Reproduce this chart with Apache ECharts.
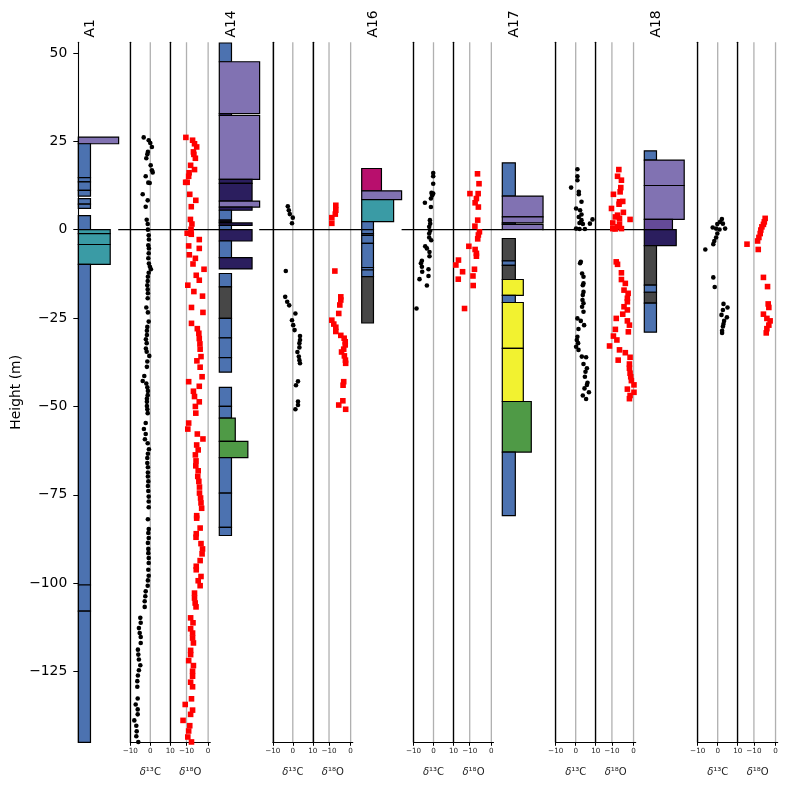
<!DOCTYPE html>
<html>
<head>
<meta charset="utf-8">
<script src="https://cdn.jsdelivr.net/npm/echarts@6/dist/echarts.min.js"></script>
<style>html,body{margin:0;padding:0;background:#fff}#c{width:787px;height:790px}</style>
</head>
<body>
<div id="c"></div>
<script>
// ---------------- DATA ----------------
const SECTIONS = ['A1', 'A14', 'A16', 'A17', 'A18'];
const HEIGHT_TICKS = [-125, -100, -75, -50, -25, 0, 25, 50];
const D13C_TICKS = [-10, 0, 10];
const D18O_TICKS = [-10, 0];
const DATUM = [0, 0, 0, 0];

// lithology: [base (m), top (m), texture width, facies]
const A1_lith = [
  [24.3, 26.2, 9.6, 'P'], [14.7, 24.3, 2.9, 'B'], [13.5, 14.7, 2.9, 'B'], [11.1, 13.5, 2.9, 'B'],
  [9.5, 11.1, 2.9, 'B'], [7.2, 8.8, 2.9, 'B'], [6.0, 7.2, 2.9, 'B'], [0.05, 4.0, 2.9, 'B'],
  [-1.1, 0, 7.6, 'T'], [-4.2, -1.1, 7.6, 'T'], [-9.8, -4.2, 7.6, 'T'],
  [-100.5, -9.8, 2.9, 'B'], [-107.9, -100.5, 2.9, 'B'], [-145, -107.9, 2.9, 'B']
];
const A14_lith = [
  [47.5, 52.8, 2.9, 'B'], [32.8, 47.5, 9.6, 'P'], [32.3, 32.8, 2.9, 'N'], [14.2, 32.3, 9.6, 'P'],
  [13.1, 14.2, 7.8, 'N'], [8.1, 13.1, 7.8, 'N'], [6.4, 8.1, 9.6, 'P'], [5.5, 6.4, 7.8, 'N'],
  [2.7, 5.5, 2.9, 'B'], [2.2, 2.7, 2.9, 'N'], [1.9, 2.2, 2.9, 'B'], [1.2, 1.9, 7.8, 'N'],
  [0, 1.2, 2.9, 'B'], [-3.2, 0, 7.8, 'N'], [-7.9, -3.2, 2.9, 'B'], [-11.1, -7.9, 7.8, 'N'],
  [-16.2, -12.4, 2.9, 'B'], [-25.1, -16.2, 2.9, 'K'], [-30.6, -25.1, 2.9, 'B'], [-36.2, -30.6, 2.9, 'B'],
  [-40.3, -36.2, 2.9, 'B'], [-50.0, -44.6, 2.9, 'B'], [-53.3, -50.0, 2.9, 'B'], [-59.9, -53.3, 3.8, 'G'],
  [-64.5, -59.9, 6.8, 'G'], [-74.5, -64.5, 2.9, 'B'], [-84.2, -74.5, 2.9, 'B'], [-86.5, -84.2, 2.9, 'B']
];
const A16_lith = [
  [11.0, 17.3, 4.7, 'M'], [8.5, 11.0, 9.5, 'P'], [2.3, 8.5, 7.6, 'T'], [0, 2.3, 2.8, 'B'],
  [-1.1, 0, 2.8, 'B'], [-1.6, -1.1, 2.8, 'B'], [-3.9, -1.6, 2.8, 'B'], [-10.7, -3.9, 2.8, 'B'],
  [-11.4, -10.7, 2.8, 'B'], [-13.3, -11.4, 2.8, 'B'], [-26.4, -13.3, 2.8, 'K']
];
const A17_lith = [
  [9.5, 18.9, 3.1, 'B'], [3.6, 9.5, 9.7, 'P'], [1.9, 3.6, 9.7, 'P'], [1.5, 1.9, 3.1, 'B'],
  [0, 1.5, 9.7, 'P'], [-8.8, -2.5, 3.1, 'K'], [-10.1, -8.8, 3.1, 'B'], [-14.1, -10.1, 3.1, 'K'],
  [-18.6, -14.1, 5.0, 'Y'], [-20.6, -18.6, 3.1, 'B'], [-33.6, -20.6, 5.0, 'Y'], [-48.6, -33.6, 5.0, 'Y'],
  [-62.9, -48.6, 6.9, 'G'], [-80.9, -62.9, 3.1, 'B']
];
const A18_lith = [
  [19.7, 22.3, 2.9, 'B'], [12.5, 19.7, 9.5, 'P'], [2.9, 12.5, 9.5, 'P'], [0, 2.9, 6.7, 'V'],
  [-4.5, 0, 7.6, 'N'], [-15.7, -4.5, 2.9, 'K'], [-17.7, -15.7, 2.9, 'B'], [-20.8, -17.7, 2.9, 'K'],
  [-29.0, -20.8, 2.9, 'B']
];

// isotope data: [value (permil), height (m)]
const A1_d13C = [
  [-3.3,26.1],[-0.8,25.3],[0,24.5],[0.8,23.4],[-1.2,22.0],[-1.5,21.3],[-2,20.2],[0.2,18.2],[0.8,16.8],[1.2,16.2],
  [-2.3,15.1],[-1,13.3],[-0.3,13.2],[-3.8,10.0],[-1.3,8.3],[-2.3,6.5],[-1.8,2.8],[-1.3,1.6],[-1.2,0],[-0.8,-1.6],
  [-0.7,-2.8],[-1,-4.4],[-0.7,-5.3],[-0.8,-6.7],[-1,-8.1],[-0.7,-9.6],[-0.2,-10.5],[0.3,-11.2],[-0.8,-12.2],[-1.2,-13.3],
  [-1.3,-14.5],[-1.5,-15.7],[-1.3,-16.9],[-1.2,-18.0],[-1.3,-19.4],[-2,-22.0],[-1.2,-23.4],[-0.8,-26.0],[-1.5,-27.5],[-1.7,-28.6],
  [-1.7,-29.8],[-2.2,-31.0],[-1.8,-32.1],[-2.2,-33.6],[-1.8,-34.5],[-0.5,-35.7],[-1.5,-37.3],[-1.7,-38.8],[-3,-41.4],[-3.8,-42.8],
  [-2,-43.5],[-1.5,-44.6],[-1.2,-45.6],[-1.3,-46.8],[-1.7,-47.8],[-1.7,-48.7],[-1.7,-49.9],[-1.5,-50.8],[-1.3,-51.9],[-2.3,-54.7],
  [-3.2,-56.4],[-2.3,-57.8],[-2.7,-59.3],[-1.3,-60.4],[-0.7,-62.1],[-1.2,-63.4],[-1.5,-64.6],[-1.5,-66.0],[-1.2,-67.2],[-1.2,-68.7],
  [-1.2,-69.8],[-1,-71.2],[-1.2,-72.5],[-1,-73.9],[-0.8,-75.5],[-0.8,-76.9],[-0.8,-78.5],[-1.2,-81.9],[-0.8,-84.7],[-1,-85.8],
  [-0.8,-87.2],[-1.2,-88.6],[-1,-90.3],[-1,-91.5],[-0.8,-92.9],[-0.8,-94.3],[-1,-96.2],[-0.8,-97.9],[-1.2,-99.2],[-1.3,-100.7],
  [-2.3,-102.3],[-2.5,-103.7],[-2.8,-105.1],[-2.8,-106.7],[-5,-109.8],[-4.8,-111.2],[-5.7,-112.7],[-5.3,-114.1],[-4.8,-115.2],[-4.8,-116.9],
  [-6.2,-118.8],[-6,-120.2],[-5.7,-121.6],[-5,-123.2],[-5.7,-124.6],[-6.2,-126.1],[-6.5,-127.7],[-6.5,-129.3],[-6.3,-132.6],[-7.3,-134.3],
  [-6.3,-135.7],[-6.3,-137.1],[-8,-138.8],[-7,-140.3],[-6.8,-141.9],[-7,-143.3],[-6,-144.9]
];
const A1_d18O = [
  [-10.3,26.1],[-7.2,25.3],[-6.3,24.3],[-5.3,23.4],[-6.8,22.0],[-6.6,21.3],[-5.9,20.2],[-8.1,18.2],[-6.3,17.0],[-8.8,16.1],
  [-9.0,15.1],[-10.4,13.4],[-9.7,13.4],[-8.5,10.0],[-5.7,8.3],[-7.8,6.5],[-8.2,2.9],[-7.5,1.6],[-7.9,0.1],[-9.7,-1.0],
  [-7.8,-1.3],[-4.1,-2.8],[-9,-4.6],[-4.1,-5.3],[-8.7,-7.1],[-5.9,-8.1],[-7.0,-9.7],[-1.9,-11.2],[-5.5,-12.9],[-4.1,-14.3],
  [-9.4,-15.7],[-6.6,-17.5],[-2.6,-18.8],[-7.7,-22.0],[-2.4,-23.4],[-7.7,-26.5],[-5.0,-28.0],[-4.3,-29.3],[-4.1,-30.8],[-3.8,-32.3],
  [-3.7,-33.8],[-3.3,-35.9],[-5.2,-37.1],[-3.7,-38.9],[-2.8,-41.6],[-9.0,-43.0],[-4.1,-44.3],[-6.8,-45.7],[-6.3,-47.2],[-4.1,-48.7],
  [-5.9,-50.0],[-5.7,-51.9],[-9.0,-54.7],[-9.4,-56.4],[-5.0,-57.8],[-2.4,-59.2],[-5.3,-60.9],[-4.6,-62.3],[-5.9,-63.7],[-5.6,-65.4],
  [-5.7,-66.8],[-4.6,-68.2],[-4.8,-69.8],[-4.3,-71.2],[-4.0,-72.8],[-4.0,-74.5],[-3.5,-75.9],[-3.3,-77.3],[-3.0,-78.8],[-5.3,-80.9],
  [-5.3,-81.6],[-3.7,-84.4],[-5.5,-86.0],[-5.6,-87.0],[-3.3,-88.8],[-2.6,-90.3],[-2.8,-91.7],[-3.7,-93.6],[-5.5,-95.2],[-5.5,-96.2],
  [-3.3,-98.1],[-4.6,-99.3],[-3.7,-100.7],[-6.3,-102.8],[-6.3,-104.2],[-6.0,-105.6],[-5.6,-106.7],[-8.1,-109.8],[-7.0,-111.2],[-8.1,-112.9],
  [-7.2,-114.1],[-7.2,-115.5],[-6.8,-116.9],[-8.1,-119.0],[-8.1,-120.2],[-9.0,-121.9],[-6.8,-123.3],[-7.2,-124.9],[-7.2,-126.3],[-8.1,-128.0],
  [-7.2,-129.3],[-7.7,-132.7],[-10.6,-134.3],[-7.2,-135.9],[-8.1,-137.1],[-11.6,-138.8],[-8.5,-140.3],[-9.0,-141.8],[-9.4,-143.5],[-7.7,-144.9]
];
const A14_d13C = [
  [-2.5,6.6],[-2.0,5.5],[-1.5,4.4],[0,3.4],[-0.4,1.8],[-3.5,-11.7],[-3.8,-19.0],[-2.8,-20.4],[-1.8,-21.4],[1.3,-23.7],
  [-0.4,-25.6],[0.2,-27.0],[0.9,-28.4],[3.6,-30.1],[3.6,-31.2],[3.3,-32.1],[3.3,-33.3],[2.3,-34.6],[3.0,-35.9],[3.3,-36.9],
  [3.6,-37.8],[2.6,-42.9],[1.6,-44.0],[2.6,-48.6],[2.6,-49.6],[1.3,-50.8]
];
const A14_d18O = [
  [-6.85,6.9],[-6.85,5.5],[-7.1,4.4],[-8.7,3.4],[-8.7,1.8],[-7.3,-11.7],[-4.55,-19.0],[-4.55,-19.9],[-5.0,-21.3],[-5.5,-23.7],
  [-8.7,-25.6],[-7.8,-26.7],[-6.85,-27.6],[-6.85,-28.8],[-4.55,-29.9],[-3.0,-30.7],[-2.5,-31.7],[-2.5,-32.6],[-3.2,-33.8],[-4.2,-34.6],
  [-2.9,-35.7],[-2.4,-36.9],[-2.3,-37.8],[-3.2,-43.0],[-3.5,-44.0],[-3.6,-48.4],[-5.5,-49.6],[-2.3,-50.8]
];
const A16_d13C = [
  [-0.15,16.0],[-0.15,15.1],[-0.15,13.0],[-1.0,10.4],[-0.15,10.2],[-0.65,9.7],[-1.3,8.8],[-4.3,7.6],[-1.3,6.4],[-1.8,2.7],
  [-1.65,1.7],[-2.15,0.8],[-1.65,-0.3],[-2.15,-1.1],[-2.15,-2.2],[-1.15,-3.0],[-4.15,-4.7],[-3.3,-5.3],[-2.0,-6.3],[-2.0,-7.5],
  [-5.8,-8.8],[-6.3,-9.5],[-5.8,-10.5],[-2.5,-11.2],[-5.65,-11.9],[-2.5,-13.1],[-7.0,-14.0],[-3.3,-15.8],[-8.5,-22.3]
];
const A16_d18O = [
  [-6.4,15.8],[-5.7,13.0],[-9.9,10.2],[-6.1,10.2],[-6.9,8.8],[-7.5,7.6],[-6.0,6.4],[-6.3,2.7],[-7.6,1.0],[-5.5,-0.6],
  [-6.0,-1.5],[-6.3,-2.6],[-10.4,-4.7],[-7.5,-5.6],[-6.9,-6.7],[-6.9,-7.5],[-15.2,-8.6],[-16.4,-10.0],[-13.3,-11.9],[-15.3,-14.0],
  [-8.5,-13.1],[-7.8,-11.2],[-8.4,-15.8],[-12.4,-22.3]
];
const A17_d13C = [
  [0.85,17.1],[0.85,15.1],[0.85,14.0],[-2.3,11.9],[1.55,10.7],[1.55,10.0],[2.9,7.9],[0.2,6.0],[2.2,5.5],[2.9,4.3],
  [1.55,3.6],[2.9,2.7],[1.9,1.9],[8.4,2.9],[7.1,1.7],[3.6,1.6],[0.2,0.3],[1.9,0.2],[4.6,0.2],
  [2.55,-9.1],[2.2,-9.5],[3.2,-12.4],[3.9,-13.3],[3.9,-15.2],[3.55,-15.7],[3.9,-17.6],[3.55,-18.5],[3.4,-19.9],[3.9,-20.8],
  [3.2,-21.8],[3.9,-23.2],[0.85,-25.1],[2.55,-25.8],[4.2,-27.0],[1.4,-28.1],[0.85,-30.3],[0.55,-31.2],[1.2,-32.1],[0.2,-33.1],
  [1.4,-34.0],[3.05,-35.9],[5.2,-36.1],[3.9,-38.0],[5.6,-39.2],[4.9,-40.2],[4.6,-41.6],[5.9,-43.3],[5.6,-43.9],[4.4,-44.9],
  [6.6,-46.0],[3.55,-46.9],[5.2,-47.9]
];
const A17_d18O = [
  [-6.8,17.0],[-7.4,15.1],[-5.6,14.0],[-5.9,11.9],[-6.2,10.7],[-9.3,10.0],[-6.5,7.9],[-5.0,8.0],[-6.7,7.2],[-10.2,6.0],
  [-4.7,4.9],[-7.4,4.1],[-8.4,3.6],[-6.5,3.2],[-1.6,2.9],[-9.6,1.9],[-6.5,1.6],[-7.4,0.8],[-5.6,0.3],[-8.5,0.2],[-9.6,0.3],
  [-8.0,-9.1],[-7.4,-9.8],[-5.6,-12.2],[-5.6,-14.1],[-3.8,-15.2],[-4.4,-17.1],[-2.5,-18.0],[-2.85,-19.4],[-2.85,-20.4],[-4.4,-21.8],
  [-2.85,-22.7],[-5.0,-23.9],[-8.0,-25.1],[-2.85,-25.8],[-1.9,-27.0],[-8.4,-28.2],[-2.4,-28.9],[-9.3,-30.1],[-7.7,-31.2],[-11.1,-32.9],
  [-6.5,-34.0],[-3.8,-34.8],[-1.6,-36.1],[-7.1,-36.9],[-1.9,-38.0],[-1.9,-39.2],[-1.6,-40.6],[-1.3,-41.6],[-1.0,-42.7],[0.2,-43.9],
  [-2.85,-45.1],[0.2,-46.0],[-1.6,-46.9],[-1.9,-47.8]
];
const A18_d13C = [
  [2.1,3.0],[1.2,2.2],[2.6,1.7],[-0.2,1.6],[-2.5,0.6],[-0.8,0.3],[3.7,0.3],[0.9,0.05],[-0.2,-1.1],[-0.8,-2.2],
  [-1.7,-3.2],[-2.2,-4.1],[-6.2,-5.6],[-2.2,-13.5],[-1.5,-16.2],[2.9,-21.0],[4.9,-22.0],[2.6,-22.7],[1.9,-24.1],[4.6,-24.8],
  [3.2,-25.8],[2.9,-26.7],[2.6,-27.4],[2.2,-28.6],[2.2,-29.2]
];
const A18_d18O = [
  [-4.8,3.2],[-5.2,2.2],[-5.6,1.5],[-6.3,0.8],[-6.8,-0.1],[-7.1,-1.1],[-7.7,-2.2],[-8.3,-3.2],[-13.2,-4.1],[-8.0,-5.6],
  [-5.6,-13.5],[-3.7,-16.1],[-3.4,-21.0],[-3.1,-22.0],[-5.6,-23.9],[-4.0,-25.1],[-2.5,-25.8],[-3.1,-27.0],[-4.0,-28.0],[-4.3,-29.2]
];

// ---------------- STYLE / LAYOUT ----------------
const FACIES_COLORS = {
  B: '#4C72B0', P: '#8172B2', T: '#3A9BA5', N: '#2B1E5E', G: '#4F9A46',
  K: '#474747', Y: '#F2F230', M: '#B80F6D', V: '#654A98'
};
const LITH = [A1_lith, A14_lith, A16_lith, A17_lith, A18_lith];
const D13C = [A1_d13C, A14_d13C, A16_d13C, A17_d13C, A18_d13C];
const D18O = [A1_d18O, A14_d18O, A16_d18O, A17_d18O, A18_d18O];

const FONT = 'DejaVu Sans';
const LITH_LEFT = [78.3, 219.3, 361.7, 502.3, 644.3];
const D13_LEFT = [130.3, 272.8, 413.5, 555.7, 697.7];
const LITH_W = 42, PANEL_W = 40, TOP = 42.3, PLOT_H = 700;
const LITH_MAX = 10, DATUM_X = 9.5;
const Y_MIN = -145, Y_MAX = 53;

const minus = v => (v < 0 ? '\u2212' + Math.abs(v) : String(v));

const grids = [], xAxes = [], yAxes = [], series = [], graphics = [];

function gridLines(xi, yi, ticks) {
  return {
    type: 'custom', xAxisIndex: xi, yAxisIndex: yi, z: 1, silent: true, clip: false,
    data: ticks.map(t => [t, 0]),
    renderItem: (params, api) => {
      const a = api.coord([api.value(0), Y_MAX]);
      const b = api.coord([api.value(0), Y_MIN]);
      return { type: 'line', shape: { x1: a[0], y1: a[1], x2: b[0], y2: b[1] },
        style: { stroke: '#b0b0b0', lineWidth: 1.3 } };
    }
  };
}

SECTIONS.forEach((name, i) => {
  const gL = 3 * i, g13 = 3 * i + 1, g18 = 3 * i + 2;
  grids.push({ left: LITH_LEFT[i], top: TOP, width: LITH_W, height: PLOT_H });
  grids.push({ left: D13_LEFT[i], top: TOP, width: PANEL_W, height: PLOT_H });
  grids.push({ left: D13_LEFT[i] + PANEL_W, top: TOP, width: PANEL_W, height: PLOT_H });

  // lith axes
  xAxes.push({ gridIndex: gL, type: 'value', min: 0, max: LITH_MAX, show: false });
  if (i === 0) {
    yAxes.push({
      gridIndex: gL, type: 'value', min: Y_MIN, max: Y_MAX, position: 'left', z: 4,
      axisLine: { show: true, onZero: false, lineStyle: { color: '#000', width: 1.1 } },
      axisTick: { show: true, customValues: HEIGHT_TICKS, length: 5, lineStyle: { color: '#000', width: 1 } },
      axisLabel: { customValues: HEIGHT_TICKS, formatter: minus, fontSize: 13.9, fontFamily: FONT, color: '#000', margin: 11 },
      splitLine: { show: false },
      name: 'Height (m)', nameLocation: 'middle', nameRotate: 90, nameGap: 55,
      nameTextStyle: { fontSize: 13.9, fontFamily: FONT, color: '#000' }
    });
  } else {
    yAxes.push({ gridIndex: gL, type: 'value', min: Y_MIN, max: Y_MAX, show: false });
  }

  // d13C axes
  xAxes.push({
    gridIndex: g13, type: 'value', min: -10, max: 10, position: 'bottom', z: 4,
    axisLine: { show: true, onZero: false, lineStyle: { color: '#000', width: 1.1 } },
    axisTick: { show: true, customValues: D13C_TICKS, length: 3.5, lineStyle: { color: '#000', width: 1 } },
    axisLabel: { customValues: D13C_TICKS, formatter: minus, fontSize: 7.2, fontFamily: FONT, color: '#222', margin: 5 },
    splitLine: { show: false },
    name: '{i|δ}{n|¹³C}', nameLocation: 'middle', nameGap: 25,
    nameTextStyle: { rich: { i: { fontStyle: 'italic', fontSize: 10, fontFamily: FONT, color: '#222' },
                             n: { fontSize: 10, fontFamily: FONT, color: '#222' } } }
  });
  yAxes.push({
    gridIndex: g13, type: 'value', min: Y_MIN, max: Y_MAX, z: 4,
    axisLine: { show: true, onZero: false, lineStyle: { color: '#000', width: 1.3 } },
    axisTick: { show: false }, axisLabel: { show: false }, splitLine: { show: false }
  });
  // d18O axes
  xAxes.push({
    gridIndex: g18, type: 'value', min: -17.5, max: 1, position: 'bottom', z: 4,
    axisLine: { show: true, onZero: false, lineStyle: { color: '#000', width: 1.1 } },
    axisTick: { show: true, customValues: D18O_TICKS, length: 3.5, lineStyle: { color: '#000', width: 1 } },
    axisLabel: { customValues: D18O_TICKS, formatter: minus, fontSize: 7.2, fontFamily: FONT, color: '#222', margin: 5 },
    splitLine: { show: false },
    name: '{i|δ}{n|¹⁸O}', nameLocation: 'middle', nameGap: 25,
    nameTextStyle: { rich: { i: { fontStyle: 'italic', fontSize: 10, fontFamily: FONT, color: '#222' },
                             n: { fontSize: 10, fontFamily: FONT, color: '#222' } } }
  });
  yAxes.push({
    gridIndex: g18, type: 'value', min: Y_MIN, max: Y_MAX, z: 4,
    axisLine: { show: true, onZero: false, lineStyle: { color: '#000', width: 1.3 } },
    axisTick: { show: false }, axisLabel: { show: false }, splitLine: { show: false }
  });

  // lithology column
  const lith = LITH[i];
  series.push({
    type: 'custom', xAxisIndex: gL, yAxisIndex: gL, z: 3, silent: true, clip: false,
    data: lith.map(r => [r[0], r[1], r[2]]),
    renderItem: (params, api) => {
      const base = api.value(0), top = api.value(1), w = api.value(2);
      const p0 = api.coord([0, top]);
      const p1 = api.coord([w, base]);
      return { type: 'rect', shape: { x: p0[0], y: p0[1], width: p1[0] - p0[0], height: p1[1] - p0[1] },
        style: { fill: FACIES_COLORS[lith[params.dataIndex][3]], stroke: '#000', lineWidth: 1.2 } };
    }
  });

  // datum correlation line to next section
  if (i < SECTIONS.length - 1) {
    const gap = LITH_LEFT[i + 1] - LITH_LEFT[i] - DATUM_X * LITH_W / LITH_MAX;
    series.push({
      type: 'custom', xAxisIndex: gL, yAxisIndex: gL, z: 3, silent: true, clip: false,
      data: [[DATUM_X, DATUM[i]]],
      renderItem: (params, api) => {
        const p = api.coord([api.value(0), api.value(1)]);
        return { type: 'line', shape: { x1: p[0], y1: p[1], x2: p[0] + gap, y2: p[1] },
          style: { stroke: '#000', lineWidth: 1.2 } };
      }
    });
  }

  // gridlines
  series.push(gridLines(g13, g13, D13C_TICKS));
  series.push(gridLines(g18, g18, D18O_TICKS));

  // isotope scatter
  series.push({ type: 'scatter', xAxisIndex: g13, yAxisIndex: g13, data: D13C[i], z: 5, silent: true,
    symbol: 'circle', symbolSize: 4.6, itemStyle: { color: '#000', opacity: 1 } });
  series.push({ type: 'scatter', xAxisIndex: g18, yAxisIndex: g18, data: D18O[i], z: 5, silent: true,
    symbol: 'rect', symbolSize: 5.6, itemStyle: { color: '#ff0000', opacity: 1 } });

  // section title (rotated)
  graphics.push({ type: 'text', x: LITH_LEFT[i] + 12, y: 37.5, rotation: Math.PI / 2,
    style: { text: name, fontSize: 13.9, fontFamily: FONT, fill: '#000', align: 'left', verticalAlign: 'middle' } });
});

const chart = echarts.init(document.getElementById('c'), null, { renderer: 'canvas' });
chart.setOption({
  animation: false,
  backgroundColor: '#fff',
  grid: grids, xAxis: xAxes, yAxis: yAxes, series: series, graphic: graphics
});
</script>
</body>
</html>
